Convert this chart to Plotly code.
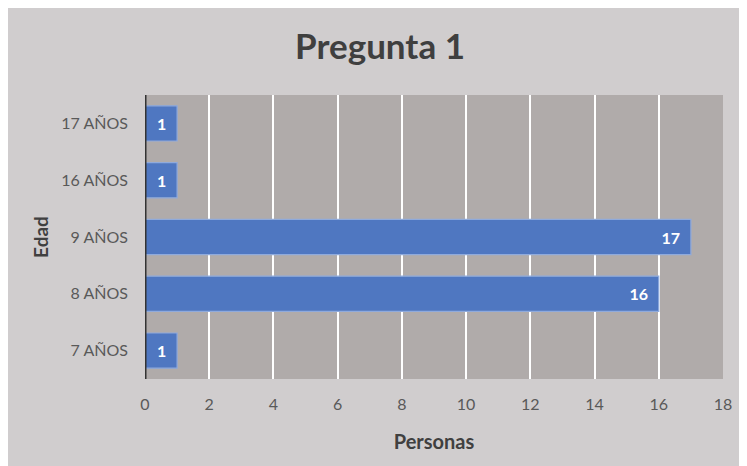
import plotly.graph_objects as go

categories = ["7 AÑOS", "8 AÑOS", "9 AÑOS", "16 AÑOS", "17 AÑOS"]
values = [1, 16, 17, 1, 1]
x_ticks = [0, 2, 4, 6, 8, 10, 12, 14, 16, 18]

# page body has an 8px margin, so the figure is offset by 8px
OFF = 8
W, H = 747 - OFF, 466 - OFF
ML, MR, MT, MB = 145 - OFF, 24, 95 - OFF, 87
FONT = "Lato, 'Open Sans', sans-serif"

fig = go.Figure(
    go.Bar(
        x=values,
        y=categories,
        orientation="h",
        marker=dict(color="#4f77c1", line=dict(color="#8faadc", width=1.2)),
        texttemplate="%{x}\u00a0\u00a0",
        textposition="inside",
        insidetextanchor="end",
        textfont=dict(color="white", size=16, family=FONT, weight="bold"),
        width=0.62,
    )
)

fig.update_layout(
    width=W, height=H,
    margin=dict(l=ML, r=MR, t=MT, b=MB),
    paper_bgcolor="#d0cdce",
    plot_bgcolor="#b0abaa",
    showlegend=False,
    title=dict(
        text="<b>Pregunta 1</b>",
        x=(380 - OFF) / W, xanchor="center",
        y=1 - (47 - OFF) / H, yanchor="middle",
        font=dict(family=FONT, size=35, color="#3f3f3f"),
    ),
    font=dict(family=FONT, size=16, color="#595959"),
    xaxis=dict(
        range=[0, 18],
        tickvals=x_ticks,
        showgrid=True, gridcolor="#ffffff", gridwidth=1.5,
        zeroline=False, showline=False,
        ticks="", ticklabelstandoff=14,
        tickfont=dict(size=16, color="#595959"),
        title=dict(text="<b>Personas</b>", standoff=22,
                   font=dict(size=20, color="#404040")),
    ),
    yaxis=dict(
        categoryorder="array", categoryarray=categories,
        showgrid=False, zeroline=False,
        showline=False,
        ticks="", ticklabelstandoff=16,
        tickfont=dict(size=16, color="#595959"),
        title=dict(text="<b>Edad</b>", standoff=7,
                   font=dict(size=19, color="#404040")),
    ),
)

fig.add_shape(type="line", xref="x", yref="paper", x0=0, x1=0, y0=0, y1=1,
              line=dict(color="#333333", width=3), layer="above")

fig.write_html("out.html")
